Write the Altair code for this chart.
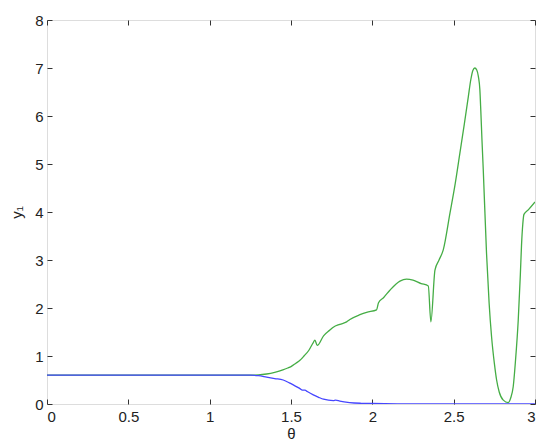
import altair as alt
import pandas as pd

green_x = [0, 1.0, 1.2, 1.25, 1.3, 1.35, 1.4, 1.45, 1.48, 1.5, 1.53, 1.555, 1.58, 1.61, 1.635, 1.647,
           1.661, 1.7, 1.739, 1.76, 1.8, 1.842, 1.862, 1.924, 1.965, 2.026, 2.038, 2.07, 2.108, 2.17,
           2.21, 2.25, 2.3, 2.344, 2.36, 2.385, 2.41, 2.436, 2.477, 2.51, 2.538, 2.565, 2.59, 2.605,
           2.618, 2.63, 2.642, 2.652, 2.661, 2.667, 2.674, 2.682, 2.702, 2.718, 2.733, 2.75, 2.764,
           2.78, 2.805, 2.835, 2.85, 2.866, 2.88, 2.897, 2.91, 2.917, 2.925, 2.932, 2.96, 3.0]
green_y = [0.6, 0.6, 0.6, 0.6, 0.605, 0.625, 0.66, 0.71, 0.75, 0.78, 0.85, 0.91, 1.0, 1.12, 1.27, 1.33,
           1.22, 1.42, 1.54, 1.60, 1.66, 1.71, 1.76, 1.86, 1.91, 1.96, 2.11, 2.22, 2.37, 2.56,
           2.6, 2.58, 2.51, 2.46, 1.71, 2.79, 3.0, 3.21, 3.97, 4.6, 5.22, 5.82, 6.40, 6.75,
           6.95, 7.0, 6.96, 6.82, 6.55, 6.1, 5.5, 4.875, 3.14, 2.1, 1.40, 0.85, 0.5,
           0.25, 0.08, 0.03, 0.12, 0.36, 0.9, 1.75, 2.7, 3.3, 3.75, 3.95, 4.05, 4.21]

blue_x = [0, 1.25, 1.3, 1.35, 1.4, 1.452, 1.49, 1.514, 1.555, 1.57, 1.586, 1.6, 1.637, 1.67, 1.70,
          1.76, 1.775, 1.8, 1.86, 1.93, 2.0, 2.2, 3.0]
blue_y = [0.6, 0.6, 0.59, 0.56, 0.53, 0.5, 0.44, 0.40, 0.32, 0.29, 0.29, 0.26, 0.19, 0.14, 0.10,
          0.07, 0.08, 0.06, 0.03, 0.015, 0.01, 0.003, 0.0]

x_ticks = [0, 0.5, 1, 1.5, 2, 2.5, 3]
y_ticks = [0, 1, 2, 3, 4, 5, 6, 7, 8]

df = pd.concat([
    pd.DataFrame({"theta": green_x, "y": green_y, "s": "green", "o": range(len(green_x))}),
    pd.DataFrame({"theta": blue_x, "y": blue_y, "s": "blue", "o": range(len(blue_x))}),
])

font = "Liberation Sans"
xs = alt.Scale(domain=[0, 3], nice=False, zero=False)
ys = alt.Scale(domain=[0, 8], nice=False, zero=False)

common_axis = dict(domain=False, grid=False, tickSize=5, offset=-5, tickColor="#333",
                   labelFont=font, labelFontSize=15, labelColor="#222",
                   titleFont=font, titleFontSize=15, titleFontWeight="normal", titleColor="#222")

x_bottom = alt.Axis(orient="bottom", values=x_ticks, labelPadding=5, title="θ", titlePadding=2,
                    labelExpr="datum.value", **common_axis)
y_left = alt.Axis(orient="left", values=y_ticks, labelPadding=4, title="y₁", titlePadding=10,
                  **common_axis)
x_top = alt.Axis(orient="top", values=x_ticks, labels=False, title=None, domain=False, grid=False,
                 tickSize=5, offset=-5, tickColor="#333")
y_right = alt.Axis(orient="right", values=y_ticks, labels=False, title=None, domain=False, grid=False,
                   tickSize=5, offset=-5, tickColor="#333")

lines = alt.Chart(df).mark_line(strokeWidth=1.3, clip=True, interpolate="monotone").encode(
    x=alt.X("theta:Q", scale=xs, axis=x_bottom),
    y=alt.Y("y:Q", scale=ys, axis=y_left),
    color=alt.Color("s:N", scale=alt.Scale(domain=["green", "blue"], range=["#45ad45", "#4646ff"]),
                    legend=None),
    order="o:Q",
    detail="s:N",
)

frame = alt.Chart(pd.DataFrame({"theta": [0], "y": [0]})).mark_point(opacity=0).encode(
    x=alt.X("theta:Q", scale=xs, axis=x_top),
    y=alt.Y("y:Q", scale=ys, axis=y_right),
)

chart = alt.layer(lines, frame).resolve_axis(x="independent", y="independent").properties(
    width=488, height=384,
    autosize=alt.AutoSizeParams(type="none"),
    padding={"left": 39, "top": 12, "right": 6, "bottom": 38},
).configure_view(stroke="#333", strokeWidth=1).configure(background="white")

chart.save("out.html", embed_options={"renderer": "svg", "actions": False})
